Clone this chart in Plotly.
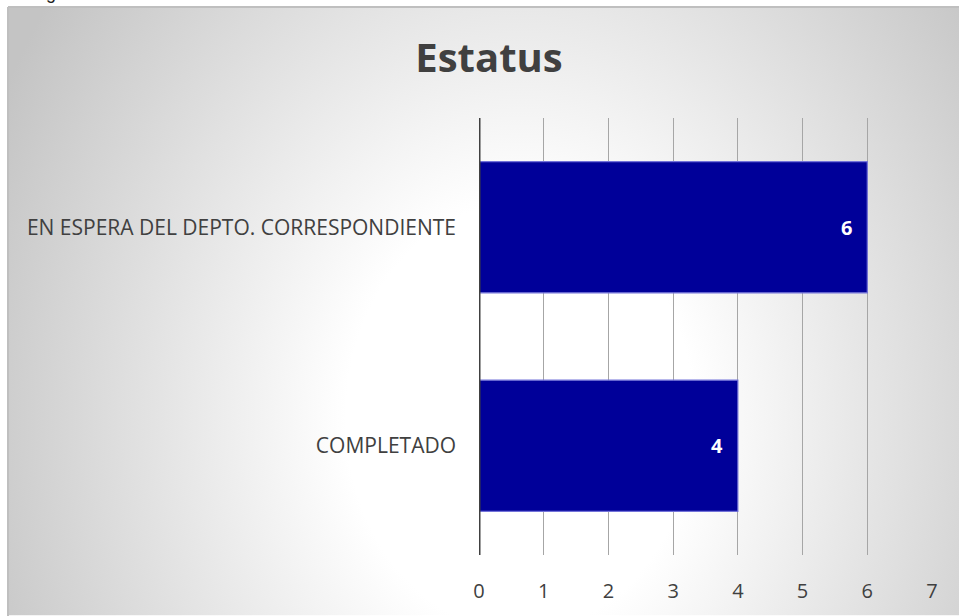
import base64
import plotly.graph_objects as go

# ---- data ----
categories = ["COMPLETADO", "EN ESPERA DEL DEPTO. CORRESPONDIENTE"]
values = [4, 6]
x_ticks = [0, 1, 2, 3, 4, 5, 6, 7]
title_text = "Estatus"

# ---- geometry (pixels) ----
W, H = 959, 616
L, R, T, B = 479, 27, 118, 57
pw, ph = W - L - R, H - T - B

def px(xp):
    return (xp - L) / pw

def py(yp):
    return (H - B - yp) / ph

# radial gradient background (frame starts at (8,6))
fx, fy = 8, 6
gw, gh = W - fx + 4, H - fy + 4
cx, cy = 520 - fx, 420 - fy
svg = f'''<svg xmlns="http://www.w3.org/2000/svg" width="{gw}" height="{gh}" viewBox="0 0 {gw} {gh}" preserveAspectRatio="none">
<defs><radialGradient id="g" gradientUnits="userSpaceOnUse" cx="0" cy="0" r="1" gradientTransform="translate({cx},{cy}) scale(580,720)">
<stop offset="0" stop-color="#ffffff"/><stop offset="0.3" stop-color="#ffffff"/><stop offset="1" stop-color="#c4c4c4"/>
</radialGradient></defs><rect x="0" y="0" width="{gw}" height="{gh}" fill="url(#g)"/></svg>'''
src = "data:image/svg+xml;base64," + base64.b64encode(svg.encode()).decode()

text_color = "#404040"
font_family = "Open Sans"

fig = go.Figure()
fig.add_trace(go.Bar(
    x=values, y=categories, orientation="h",
    marker=dict(color="#000099", line=dict(color="#7373d9", width=1.2)),
    width=0.6, hoverinfo="skip",
))

annotations = []
for c, v in zip(categories, values):
    annotations.append(dict(
        x=v, y=c, xref="x", yref="y", text=f"<b>{v}</b>", showarrow=False,
        xanchor="center", yanchor="middle", xshift=-21,
        font=dict(family=font_family, size=20, color="white"),
    ))
annotations.append(dict(
    x=px(51), y=py(3), xref="paper", yref="paper", text="g", showarrow=False,
    xanchor="center", yanchor="bottom", borderpad=0,
    font=dict(family="Liberation Sans", size=18, color="#222222"),
))

fig.update_layout(
    width=W, height=H,
    margin=dict(l=L, r=R, t=T, b=B, pad=0),
    paper_bgcolor="white",
    plot_bgcolor="rgba(0,0,0,0)",
    showlegend=False,
    title=dict(text=f"<b>{title_text}</b>", xref="container", x=489 / W,
               xanchor="center", yref="container", y=1 - 58 / H,
               yanchor="middle",
               font=dict(family=font_family, size=40, color=text_color)),
    xaxis=dict(range=[0, 7], tickvals=x_ticks, showgrid=True,
               gridcolor="#a6a6a6", gridwidth=1.3, zeroline=False,
               showline=False, ticks="", ticklabelstandoff=22,
               tickfont=dict(family=font_family, size=20, color=text_color),
               fixedrange=True),
    yaxis=dict(showgrid=False, zeroline=False, showline=False, ticks="",
               ticklabelstandoff=22, range=[-0.5, 1.5],
               tickfont=dict(family=font_family, size=21, color=text_color),
               fixedrange=True),
    bargap=0.4,
    images=[dict(source=src, xref="paper", yref="paper",
                 x=px(fx), y=py(fy), sizex=gw / pw, sizey=gh / ph,
                 xanchor="left", yanchor="top", sizing="stretch",
                 layer="below")],
    shapes=[
        dict(type="line", xref="paper", yref="paper",
             x0=px(fx), x1=px(W + 5), y0=py(fy), y1=py(fy),
             line=dict(color="#bfbfbf", width=2)),
        dict(type="line", xref="paper", yref="paper",
             x0=px(fx), x1=px(fx), y0=py(fy), y1=py(H + 5),
             line=dict(color="#bfbfbf", width=2)),
        dict(type="line", xref="x", yref="paper", x0=0, x1=0, y0=0, y1=1,
             line=dict(color="#404040", width=3), layer="above"),
    ],
    annotations=annotations,
)

fig.write_html("out.html",
               config={"displayModeBar": False},
               post_script="document.body.style.margin='0px';"
                           "document.body.style.overflow='hidden';")
